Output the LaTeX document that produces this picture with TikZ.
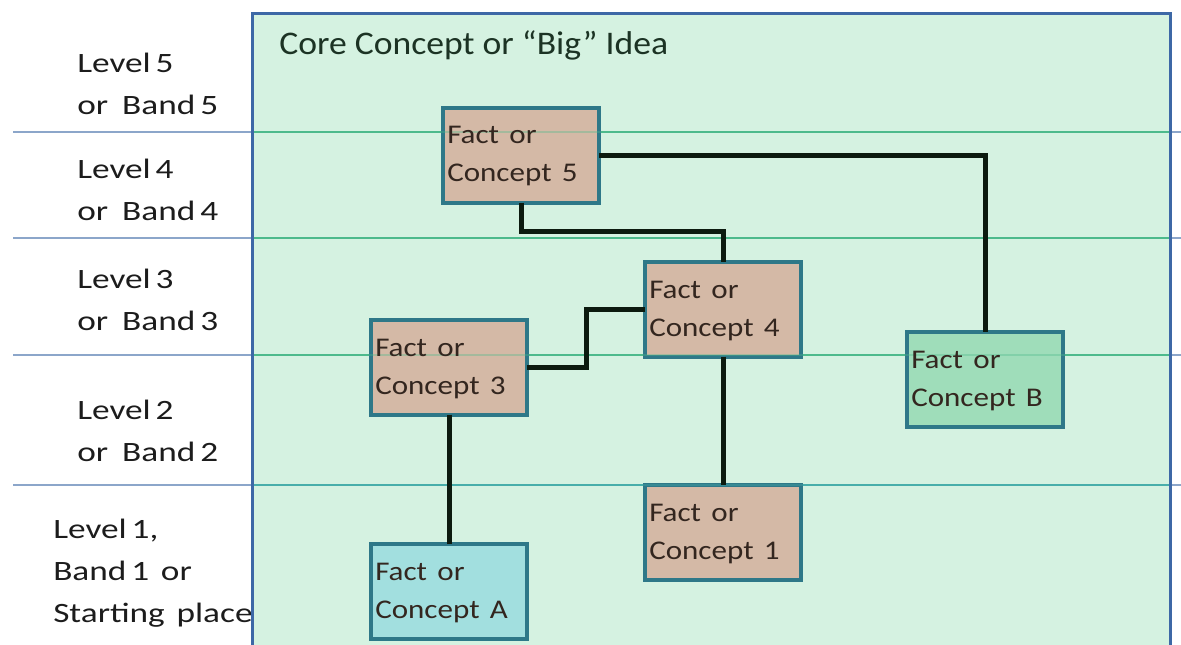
\documentclass[tikz,border=0pt]{standalone}
\usepackage{fontspec}
\setmainfont{Carlito}
\usepackage{graphicx}
\definecolor{bgfill}{HTML}{D5F2E1}
\definecolor{outerline}{HTML}{3D68A6}
\definecolor{bandleft}{HTML}{8CA6CA}
\definecolor{bandin}{HTML}{4DBA8C}
\definecolor{bandlow}{HTML}{48AEAA}
\definecolor{boxline}{HTML}{2E7888}
\definecolor{tanfill}{HTML}{D4B9A6}
\definecolor{greenfill}{HTML}{9FDDBA}
\definecolor{cyanfill}{HTML}{A2DFDF}
\definecolor{connector}{HTML}{0C1B0F}
\definecolor{boxtext}{HTML}{33261F}
\definecolor{labtext}{HTML}{1C1C1C}
\definecolor{titletext}{HTML}{1C3324}
\newcommand{\sxl}[1]{\scalebox{1.26}[1]{#1}}
\newcommand{\sxb}[1]{\scalebox{1.15}[1]{#1}}
\newcommand{\sxt}[1]{\scalebox{1.08}[1]{#1}}
\newcommand{\nsp}{\hspace{0.14em}}
\begin{document}
\begin{tikzpicture}[x=0.75pt,y=-0.75pt,
  fbox/.style={draw=boxline, line width=3pt, anchor=north west, inner sep=0pt, outer sep=0pt,
    minimum width=117pt, minimum height=71pt},
  btext/.style={anchor=base west, inner sep=0pt, text width=150pt, align=left,
    font=\fontsize{20.25pt}{28.5pt}\selectfont, text=boxtext},
  lab/.style={anchor=base west, inner sep=0pt, text width=200pt, align=left,
    font=\fontsize{21pt}{31.5pt}\selectfont, text=labtext},
  band/.style={line width=1.5pt},
  link/.style={draw=connector, line width=3.75pt}]
\useasboundingbox (0,0) rectangle (1181,645);
\clip (0,0) rectangle (1181,645);
% background of the big idea area
\fill[bgfill] (252,14) rectangle (1170,700);
% band lines
\foreach \yy in {132,238,355} {
  \draw[band, bandleft] (13,\yy) -- (252,\yy);
  \draw[band, bandin] (252,\yy) -- (1170,\yy);
  \draw[band, bandleft] (1170,\yy) -- (1181,\yy);
}
\draw[band, bandleft] (13,485) -- (252,485);
\draw[band, bandlow] (252,485) -- (1170,485);
\draw[band, bandleft] (1170,485) -- (1181,485);
% title
\node[anchor=base west, inner sep=0pt, font=\fontsize{24.75pt}{30pt}\selectfont, text=titletext]
  (title) at (279,55) {\sxt{Core Concept or “Big” Idea}};
% level labels
\node[lab] (l5) at (77,73) {\sxl{Level\nsp 5}\\\sxl{or\hspace{0.4em}Band\nsp 5}};
\node[lab] (l4) at (77,179) {\sxl{Level\nsp 4}\\\sxl{or\hspace{0.4em}Band\nsp 4}};
\node[lab] (l3) at (77,289) {\sxl{Level\nsp 3}\\\sxl{or\hspace{0.4em}Band\nsp 3}};
\node[lab] (l2) at (77,419) {\sxl{Level\nsp 2}\\\sxl{or\hspace{0.4em}Band\nsp 2}};
\node[lab] (l1) at (53,538) {\sxl{Level\nsp 1,}\\\sxl{Band\nsp 1 or}\\\sxl{Starting place}};
% boxes
\node[fbox, fill=tanfill] (c5) at (443,108) {};
\node[fbox, fill=tanfill] (c4) at (645,262) {};
\node[fbox, fill=tanfill] (c3) at (371,320) {};
\node[fbox, fill=greenfill] (cB) at (907,332) {};
\node[fbox, fill=tanfill] (c1) at (645,485) {};
\node[fbox, fill=cyanfill] (cA) at (371,544) {};
% faint band lines over the boxes
\begin{scope}[opacity=0.35]
\foreach \yy in {132,238,355} { \draw[band, bandin] (252,\yy) -- (1170,\yy); }
\draw[band, bandlow] (252,485) -- (1170,485);
\end{scope}
% box texts
\node[btext] (t5) at ([shift={(4,36)}]c5.north west) {\sxb{Fact or}\\\sxb{Concept 5}};
\node[btext] (t4) at ([shift={(4,36)}]c4.north west) {\sxb{Fact or}\\\sxb{Concept 4}};
\node[btext] (t3) at ([shift={(4,36)}]c3.north west) {\sxb{Fact or}\\\sxb{Concept 3}};
\node[btext] (tB) at ([shift={(4,36)}]cB.north west) {\sxb{Fact or}\\\sxb{Concept B}};
\node[btext] (t1) at ([shift={(4,36)}]c1.north west) {\sxb{Fact or}\\\sxb{Concept 1}};
\node[btext] (tA) at ([shift={(4,36)}]cA.north west) {\sxb{Fact or}\\\sxb{Concept A}};
% connectors
\coordinate (k1) at (620,232);
\coordinate (k2) at (586,338);
\draw[link] (c5.south) |- (k1) -| (c4.north);
\draw[link] (c5.east) -| (cB.north);
\draw[link] (c3.east) -| (k2) |- (c4.west);
\draw[link] (c4.south) -- (c1.north);
\draw[link] (c3.south) -- (cA.north);
% outer frame
\draw[outerline, line width=2.25pt] (252,700) -- (252,14) -- (1170,14) -- (1170,700);
\end{tikzpicture}
\end{document}
